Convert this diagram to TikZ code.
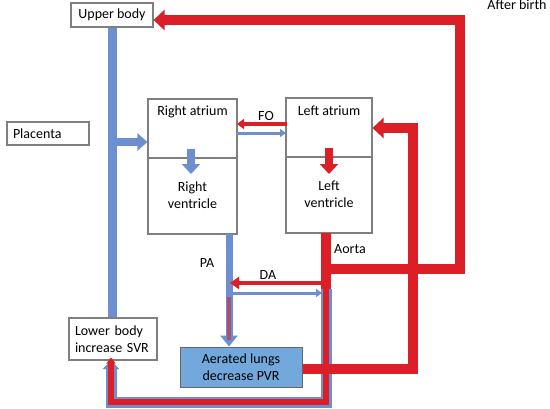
\documentclass[tikz,border=0pt]{standalone}
\usepackage{fontspec}
\setmainfont{Carlito}
\usetikzlibrary{arrows.meta}
\definecolor{bl}{HTML}{6E8FCF}
\definecolor{rd}{HTML}{DC1F26}
\definecolor{lungfill}{HTML}{72A8DC}
\definecolor{bd}{HTML}{7F7F7F}
\begin{document}
\begin{tikzpicture}[x=1pt,y=-1pt,font=\fontsize{14}{17}\selectfont,
  box/.style={draw=bd,line width=1.1pt,inner sep=0pt,fill=white},
  txt/.style={inner sep=0pt,align=center},
  bigblue/.style={draw=bl,line width=8pt,-{Triangle[width=17pt,length=10pt]}},
  bigred/.style={draw=rd,line width=10pt,-{Triangle[width=20pt,length=11pt]}},
  redline/.style={draw=rd,line width=10pt},
  thinred/.style={draw=rd,line width=4pt,-{Triangle[width=12pt,length=9pt]}},
  thinblue/.style={draw=bl,line width=3pt,-{Triangle[width=8pt,length=6pt]}}]
\useasboundingbox (0,0) rectangle (550,408);
% boxes
\node[box,minimum width=82pt,minimum height=24pt] (upper) at (112,15) {Upper body};
\node[box,minimum width=82pt,minimum height=23pt,text width=70pt,align=left,inner xsep=6pt] (placenta) at (48,133.5) {Placenta};
\node[box,minimum width=88pt,minimum height=42pt,text width=76pt,align=left,inner xsep=6pt] (lower) at (113,339) {Lower body\\increase SVR};
\node[box,fill=lungfill,draw=black!60,line width=1pt,minimum width=122pt,minimum height=40pt,align=center] (lungs) at (241,367) {Aerated lungs\\decrease PVR};
\node[box,minimum width=89pt,minimum height=59pt] (ra) at (192.5,128.5) {};
\node[box,minimum width=89pt,minimum height=76pt] (rv) at (192.5,196) {};
\node[box,minimum width=86pt,minimum height=59pt] (la) at (329,127.5) {};
\node[box,minimum width=86pt,minimum height=76pt] (lv) at (329,195) {};
\node[txt] (ratext) at (192.5,112) {Right atrium};
\node[txt] (rvtext) at (192.5,195.5) {Right\\ventricle};
\node[txt] (latext) at (329,110.5) {Left atrium};
\node[txt] (lvtext) at (329,194.5) {Left\\ventricle};
\node[txt] (fo) at (266,116) {FO};
\node[txt] (pa) at (207,263) {PA};
\node[txt] (da) at (268,275) {DA};
\node[txt] (aorta) at (350,249) {Aorta};
\node[txt,anchor=base] (after) at (517,9) {After birth};
% coordinates
\coordinate (j1) at (112,142);
\coordinate (raA) at (191,149);
\coordinate (raB) at (191,174);
\coordinate (laA) at (329,148);
\coordinate (laB) at (329,174);
\coordinate (aoTop) at (326,233);
\coordinate (aoJ) at (326,269);
\coordinate (aoMid) at (326,289);
\coordinate (aoBot) at (326,402);
\coordinate (blBot) at (111,402);
\coordinate (blTop) at (111,360);
\coordinate (rtC) at (460,269);
\coordinate (rtT) at (460,20);
\coordinate (luR) at (413,369);
\coordinate (luT) at (413,128);
\coordinate (paTop) at (229,234);
\coordinate (paA) at (229,297);
\coordinate (paB) at (229,340);
\coordinate (daR) at (322,283);
\coordinate (daL) at (230,283);
\coordinate (dbL) at (232,293);
\coordinate (dbR) at (322,293);
\coordinate (foR) at (287,124);
\coordinate (foL) at (237,124);
\coordinate (fbL) at (237,133);
\coordinate (fbR) at (286,133);
% upper body venous return
\draw[draw=bl,line width=9pt] (upper.south) -- (upper.south |- lower.north);
\draw[bigblue] (j1) -- (j1 -| ra.west);
% internal arrows
\draw[draw=bl,line width=8pt,-{Triangle[width=18pt,length=10pt]}] (raA) -- (raB);
\draw[draw=rd,line width=8pt,-{Triangle[width=18pt,length=10pt]}] (laA) -- (laB);
% FO
\draw[draw=rd,line width=3.5pt,-{Triangle[width=10pt,length=7pt]}] (foR) -- (foL);
\draw[thinblue] (fbL) -- (fbR);
% aorta to upper body
\draw[redline] (aoTop) -- (aoMid);
\draw[bigred] (aoJ) -- (rtC) -- (rtT) -- (upper.east |- rtT);
% fetal/after-birth descending path
\draw[draw=bl,line width=11pt,-{Triangle[width=16pt,length=9pt]}] (aoMid) -- (aoBot) -- (blBot) -- (blTop);
\draw[draw=rd,line width=6pt,-{Triangle[width=9pt,length=6pt]}] (aoMid) -- (aoBot) -- (blBot) -- ([yshift=2.5pt]blTop);
% PA
\draw[draw=bl,line width=7pt,-{Triangle[width=17pt,length=11pt]}] (paTop) -- (paTop |- lungs.north);
\draw[draw=rd,opacity=0.55,line width=3.5pt] (paA) -- (paB);
% DA
\draw[thinred] (daR) -- (daL);
\draw[thinblue] (dbL) -- (dbR);
% lungs to left atrium
\draw[bigred] (lungs.east |- luR) -- (luR) -- (luT) -- (la.east |- luT);
\end{tikzpicture}
\end{document}
